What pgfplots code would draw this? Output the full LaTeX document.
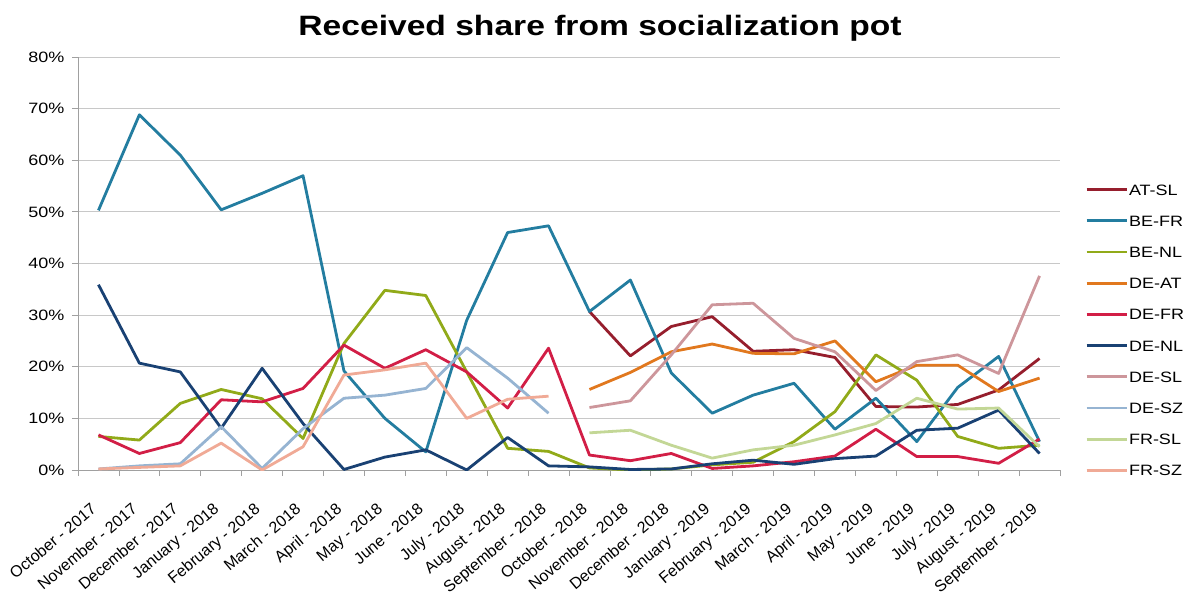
\documentclass[border=0pt]{standalone}
\usepackage{fontspec}
\setmainfont[FakeStretch=1.2]{Liberation Sans}
\newfontfamily\xlabfont{Liberation Sans}
\usepackage{pgfplots}
\pgfplotsset{compat=1.18}
\definecolor{atsl}{RGB}{150,30,45}
\definecolor{befr}{RGB}{35,125,160}
\definecolor{benl}{RGB}{145,170,25}
\definecolor{deat}{RGB}{225,120,30}
\definecolor{defr}{RGB}{210,30,70}
\definecolor{denl}{RGB}{25,65,115}
\definecolor{desl}{RGB}{205,150,155}
\definecolor{desz}{RGB}{150,180,210}
\definecolor{frsl}{RGB}{195,215,150}
\definecolor{frsz}{RGB}{240,170,150}
\definecolor{gridgray}{RGB}{200,200,200}
\definecolor{axisgray}{RGB}{160,160,160}
\begin{document}
\begin{tikzpicture}
\useasboundingbox (-78bp,-127bp) rectangle (1109bp,470bp);
\begin{axis}[
  scale only axis, width=982bp, height=413bp,
  at={(0,0)}, anchor=south west,
  xmin=-0.5, xmax=23.5, ymin=0, ymax=80,
  axis x line*=bottom, axis y line*=left,
  axis line style={draw=axisgray, line width=0.8bp, -},
  xtick={0,...,23},
  xticklabels={October - 2017, November - 2017, December - 2017, January - 2018, February - 2018, March - 2018, April - 2018, May - 2018, June - 2018, July - 2018, August - 2018, September - 2018, October - 2018, November - 2018, December - 2018, January - 2019, February - 2019, March - 2019, April - 2019, May - 2019, June - 2019, July - 2019, August - 2019, September - 2019},
  major x tick style={draw=none},
  minor xtick={-0.5,0.5,...,23.5},
  minor x tick style={draw=axisgray, line width=0.8bp},
  minor tick length=6bp,
  ytick={0,10,...,80},
  yticklabels={0\%,10\%,20\%,30\%,40\%,50\%,60\%,70\%,80\%},
  major y tick style={draw=axisgray, line width=0.8bp},
  major tick length=6bp,
  tick align=outside,
  ymajorgrids, grid style={draw=gridgray, line width=0.8bp},
  x tick label style={font=\xlabfont\fontsize{16bp}{18bp}\selectfont, rotate=40, anchor=north east, xshift=-20bp, yshift=-11bp},
  y tick label style={font=\fontsize{15bp}{18bp}\selectfont, xshift=-4bp},
  title={Received share from socialization pot},
  title style={font=\fontsize{28bp}{32bp}\bfseries\selectfont, at={(0.5,1)}, anchor=base, xshift=31bp, yshift=16bp},
  legend style={at={(1,0)}, anchor=south west, xshift=25bp, yshift=-6bp, draw=none, fill=none,
    inner sep=0pt, row sep=20.2bp,
    nodes={inner sep=0pt, inner xsep=1bp, text height=11bp, text depth=0bp},
    font=\fontsize{15bp}{18bp}\selectfont},
  legend cell align=left,
  legend image code/.code={\draw[#1, line width=2.8bp] (0bp,0bp) -- (40bp,0bp);},
  every axis plot/.append style={line width=2.8bp, line join=round, mark=none},
]
\addplot[atsl] coordinates {(12,30.7)(13,22.1)(14,27.8)(15,29.7)(16,23.0)(17,23.3)(18,21.8)(19,12.3)(20,12.2)(21,12.7)(22,15.5)(23,21.6)};
\addlegendentry{AT-SL}
\addplot[befr] coordinates {(0,50.3)(1,68.8)(2,61.0)(3,50.4)(4,53.6)(5,57.0)(6,19.2)(7,10.0)(8,3.5)(9,29.0)(10,46.0)(11,47.3)(12,30.7)(13,36.8)(14,18.8)(15,11.0)(16,14.5)(17,16.8)(18,7.9)(19,13.9)(20,5.5)(21,16.0)(22,22.0)(23,5.5)};
\addlegendentry{BE-FR}
\addplot[benl] coordinates {(0,6.5)(1,5.8)(2,12.9)(3,15.6)(4,13.8)(5,6.1)(6,24.5)(7,34.8)(8,33.8)(9,19.0)(10,4.2)(11,3.6)(12,0.4)(13,0.0)(14,0.2)(15,1.0)(16,1.5)(17,5.5)(18,11.3)(19,22.3)(20,17.4)(21,6.5)(22,4.2)(23,4.8)};
\addlegendentry{BE-NL}
\addplot[deat] coordinates {(12,15.6)(13,18.9)(14,22.9)(15,24.4)(16,22.6)(17,22.5)(18,25.0)(19,17.1)(20,20.3)(21,20.3)(22,15.2)(23,17.8)};
\addlegendentry{DE-AT}
\addplot[defr] coordinates {(0,6.8)(1,3.2)(2,5.3)(3,13.6)(4,13.2)(5,15.8)(6,24.2)(7,19.7)(8,23.3)(9,19.0)(10,12.0)(11,23.6)(12,2.9)(13,1.8)(14,3.2)(15,0.3)(16,0.8)(17,1.6)(18,2.7)(19,7.9)(20,2.6)(21,2.6)(22,1.3)(23,6.0)};
\addlegendentry{DE-FR}
\addplot[denl] coordinates {(0,35.9)(1,20.7)(2,19.0)(3,8.1)(4,19.7)(5,9.0)(6,0.1)(7,2.5)(8,3.9)(9,0.0)(10,6.3)(11,0.8)(12,0.6)(13,0.1)(14,0.2)(15,1.2)(16,1.9)(17,1.1)(18,2.2)(19,2.7)(20,7.7)(21,8.1)(22,11.6)(23,3.2)};
\addlegendentry{DE-NL}
\addplot[desl] coordinates {(12,12.1)(13,13.4)(14,22.3)(15,32.0)(16,32.3)(17,25.5)(18,22.9)(19,15.4)(20,21.0)(21,22.3)(22,18.7)(23,37.6)};
\addlegendentry{DE-SL}
\addplot[desz] coordinates {(0,0.2)(1,0.8)(2,1.2)(3,8.4)(4,0.3)(5,8.0)(6,13.9)(7,14.5)(8,15.8)(9,23.7)(10,17.8)(11,11.0)};
\addlegendentry{DE-SZ}
\addplot[frsl] coordinates {(12,7.2)(13,7.7)(14,4.8)(15,2.3)(16,3.9)(17,4.8)(18,6.8)(19,9.0)(20,13.9)(21,11.8)(22,12.0)(23,4.5)};
\addlegendentry{FR-SL}
\addplot[frsz] coordinates {(0,0.2)(1,0.5)(2,0.8)(3,5.2)(4,0.0)(5,4.5)(6,18.4)(7,19.4)(8,20.7)(9,10.0)(10,13.7)(11,14.3)};
\addlegendentry{FR-SZ}
\end{axis}
\end{tikzpicture}
\end{document}
